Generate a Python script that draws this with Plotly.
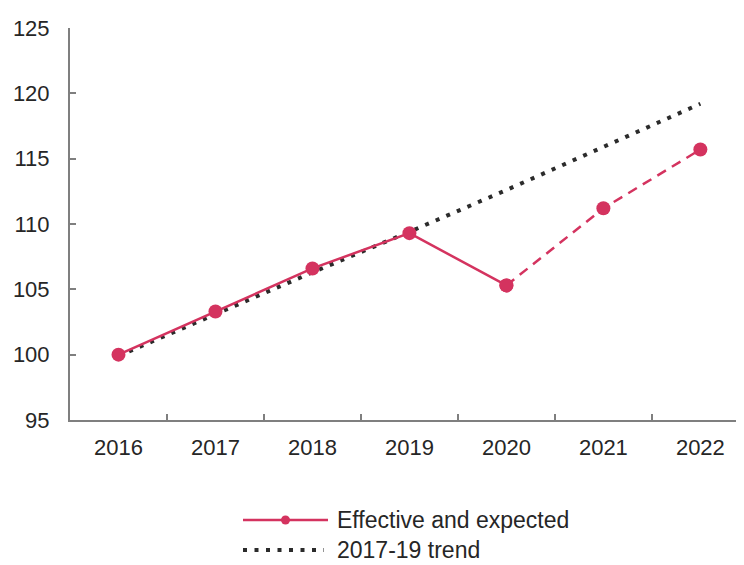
import plotly.graph_objects as go

# data
years = ["2016", "2017", "2018", "2019", "2020", "2021", "2022"]
effective = [100.0, 103.3, 106.6, 109.3, 105.3]          # 2016-2020, actual
expected_years = ["2020", "2021", "2022"]
expected = [105.3, 111.2, 115.7]                         # 2020-2022, forecast
trend = [99.9, 103.1, 106.3, 109.4, 112.6, 115.9, 119.2]  # 2017-19 trend

PINK = "#D4335F"
DOT = "#2b2b2b"
AXIS = "#7f7f7f"
TXT = "#262626"
FONT = "Liberation Sans, Arial, sans-serif"

# the page puts the figure 8px in from the top-left corner
OFF = 8
W, H = 744 - OFF, 565 - OFF
L, R, T, B = 62, 0, 20, 145

fig = go.Figure()

# trend underneath
fig.add_trace(go.Scatter(
    x=years, y=trend, mode="lines",
    line=dict(color=DOT, width=4, dash="4px,7.5px"),
    showlegend=False, hoverinfo="skip",
))
fig.add_trace(go.Scatter(
    x=expected_years, y=expected, mode="lines+markers",
    line=dict(color=PINK, width=2.5, dash="10px,7px"),
    marker=dict(color=PINK, size=14),
    showlegend=False,
))
fig.add_trace(go.Scatter(
    x=years[:len(effective)], y=effective, mode="lines+markers",
    line=dict(color=PINK, width=2.5),
    marker=dict(color=PINK, size=14),
    showlegend=False,
))

fig.update_xaxes(
    type="category", range=[-0.5, 6.45],
    showline=True, linecolor=AXIS, linewidth=2,
    ticks="inside", tickson="boundaries", ticklen=6, tickcolor=AXIS, tickwidth=1.5,
    showgrid=False, zeroline=False,
    tickfont=dict(family=FONT, size=22, color=TXT),
    ticklabelstandoff=7,
)
fig.update_yaxes(
    range=[95, 125], dtick=5,
    showline=True, linecolor=AXIS, linewidth=2,
    ticks="inside", ticklen=6, tickcolor=AXIS, tickwidth=1.5,
    showgrid=False, zeroline=False,
    tickfont=dict(family=FONT, size=22, color=TXT),
    ticklabelstandoff=14,
)

# manual legend (screen pixel positions -> paper coords)
pw, ph = W - L - R, H - T - B


def px(x):
    return (x - OFF - L) / pw


def py(y):
    return (H - B - (y - OFF)) / ph


shapes = [
    dict(type="line", xref="paper", yref="paper",
         x0=px(243), x1=px(328), y0=py(520), y1=py(520),
         line=dict(color=PINK, width=2.5)),
    dict(type="circle", xref="paper", yref="paper",
         x0=px(281), x1=px(290), y0=py(515.5), y1=py(524.5),
         fillcolor=PINK, line=dict(color=PINK, width=0)),
    dict(type="line", xref="paper", yref="paper",
         x0=px(243), x1=px(324), y0=py(550), y1=py(550),
         line=dict(color=DOT, width=4, dash="4px,7.5px")),
]
annotations = [
    dict(text="Effective and expected", xref="paper", yref="paper",
         x=px(335), y=py(520), xanchor="left", yanchor="middle",
         showarrow=False, font=dict(family=FONT, size=23, color=TXT)),
    dict(text="2017-19 trend", xref="paper", yref="paper",
         x=px(335), y=py(550), xanchor="left", yanchor="middle",
         showarrow=False, font=dict(family=FONT, size=23, color=TXT)),
]

fig.update_layout(
    width=W, height=H,
    margin=dict(l=L, r=R, t=T, b=B),
    paper_bgcolor="white", plot_bgcolor="white",
    shapes=shapes, annotations=annotations,
    showlegend=False,
)

fig.write_html("out.html")
